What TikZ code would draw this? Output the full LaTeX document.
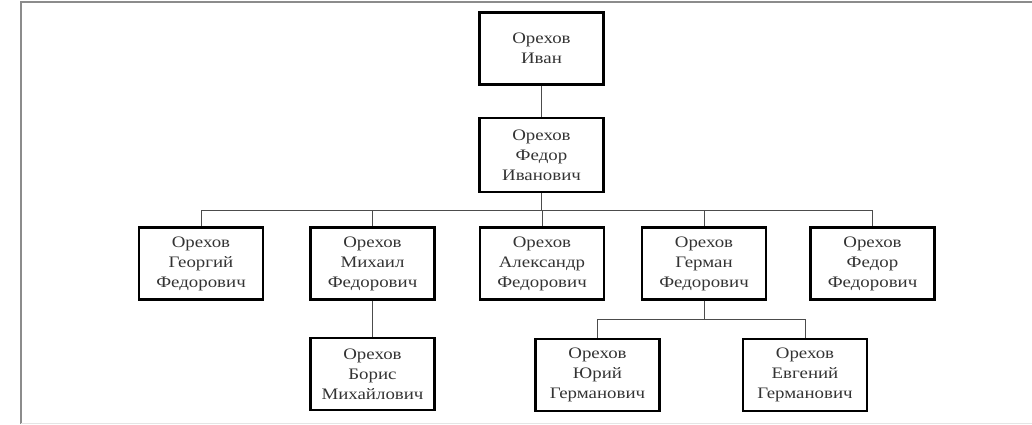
\documentclass[tikz,border=0pt]{standalone}
\usepackage{fontspec}
\setmainfont[FakeStretch=1.18]{Liberation Serif}
\tikzset{
  person/.style={draw=black, line width=2.4pt, minimum width=124pt, minimum height=72pt,
    align=center, inner sep=0pt, text=black!80, font=\fontsize{16}{20}\selectfont},
  link/.style={draw=black!70, line width=0.9pt}
}
\begin{document}
\begin{tikzpicture}[x=1pt,y=-1pt]
\useasboundingbox (0,0) rectangle (1032,424);
\draw[black!45, line width=2pt] (1032,2) -- (21,2) -- (21,424);
\draw[black!10, line width=0.6pt] (21,423) -- (1032,423);
\node[person] (ivan) at (541.5,48.5) {Орехов\\Иван};
\node[person, minimum height=74pt] (fedor) at (541.5,155) {Орехов\\Федор\\Иванович};
\node[person] (georgy) at (201,263.5) {Орехов\\Георгий\\Федорович};
\node[person] (mikhail) at (372.5,263.5) {Орехов\\Михаил\\Федорович};
\node[person] (alexandr) at (542,263.5) {Орехов\\Александр\\Федорович};
\node[person] (german) at (704,263.5) {Орехов\\Герман\\Федорович};
\node[person] (fedorf) at (872.5,263.5) {Орехов\\Федор\\Федорович};
\node[person] (boris) at (372.5,374) {Орехов\\Борис\\Михайлович};
\node[person] (yuri) at (597.5,375) {Орехов\\Юрий\\Германович};
\node[person] (evgeny) at (805,375) {Орехов\\Евгений\\Германович};
\draw[link] (ivan) -- (fedor);
\foreach \c in {georgy,mikhail,alexandr,german,fedorf}
  \draw[link] (fedor.south) -- ++(0,17) -| (\c.north);
\draw[link] (mikhail) -- (boris);
\foreach \c in {yuri,evgeny}
  \draw[link] (german.south) -- ++(0,19) -| (\c.north);
\end{tikzpicture}
\end{document}
